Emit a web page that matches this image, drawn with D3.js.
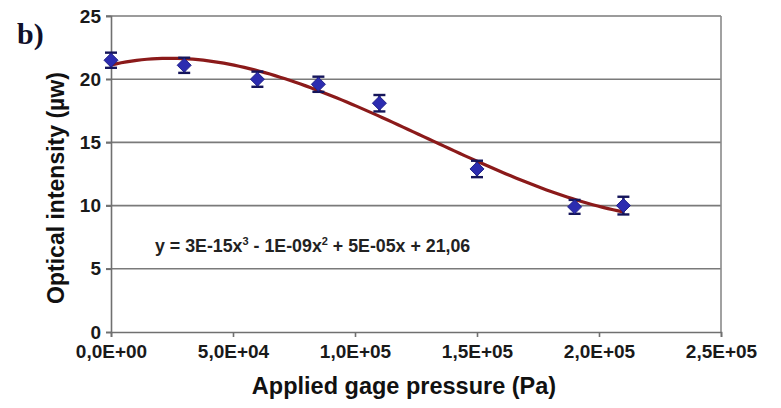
<!DOCTYPE html>
<html>
<head>
<meta charset="utf-8">
<script src="https://cdn.jsdelivr.net/npm/d3@7"></script>
<style>
  body { margin: 0; background: #fff; }
  svg { display: block; }
  text { font-family: "Liberation Sans", Arial, sans-serif; }
</style>
</head>
<body>
<svg id="chart" width="781" height="408"></svg>
<script>
// measured pressure (Pa) and optical intensity (µw) with error bars
const pressure = [0, 30000, 60000, 85000, 110000, 150000, 190000, 210000]
const intensity = [21.5, 21.1, 20.0, 19.6, 18.1, 12.9, 9.9, 10.0]
const errors = [0.6, 0.6, 0.6, 0.6, 0.65, 0.65, 0.55, 0.7]
const xTicks = [0, 50000, 100000, 150000, 200000, 250000]
const yTicks = [0, 5, 10, 15, 20, 25]
// trendline label, split so the exponents can be raised
const equationParts = [['y = 3E-15x', false], ['3', true], [' - 1E-09x', false], ['2', true], [' + 5E-05x + 21,06', false]]

const svg = d3.select('#chart')
const margin = { top: 16, right: 60, bottom: 76, left: 111 }
const width = 781, height = 408

let x = d3.scaleLinear().domain([0, 250000]).range([margin.left, width - margin.right])
let y = d3.scaleLinear().domain([0, 25]).range([height - margin.bottom, margin.top])

// excel-like "1,5E+05" tick format
function sci(d) {
  if (d === 0) return '0,0E+00'
  let e = Math.floor(Math.log10(Math.abs(d)))
  let m = (d / Math.pow(10, e)).toFixed(1).replace('.', ',')
  return m + 'E' + (e < 0 ? '-' : '+') + String(Math.abs(e)).padStart(2, '0')
}

// cubic least squares trendline (x scaled to 1e5 for stability)
function cubicFit(xs, ys) {
  let n = 4
  let A = [], b = []
  for (let i = 0; i < n; i++) {
    A.push([])
    for (let j = 0; j < n; j++) A[i].push(d3.sum(xs, v => Math.pow(v, i + j)))
    b.push(d3.sum(xs, (v, k) => Math.pow(v, i) * ys[k]))
  }
  for (let c = 0; c < n; c++) {
    let p = c
    for (let r = c + 1; r < n; r++) if (Math.abs(A[r][c]) > Math.abs(A[p][c])) p = r
    ;[A[c], A[p]] = [A[p], A[c]]
    ;[b[c], b[p]] = [b[p], b[c]]
    for (let r = c + 1; r < n; r++) {
      let f = A[r][c] / A[c][c]
      for (let k = c; k < n; k++) A[r][k] -= f * A[c][k]
      b[r] -= f * b[c]
    }
  }
  let coef = new Array(n).fill(0)
  for (let r = n - 1; r >= 0; r--) {
    let s = b[r]
    for (let k = r + 1; k < n; k++) s -= A[r][k] * coef[k]
    coef[r] = s / A[r][r]
  }
  return coef
}

const scaled = pressure.map(p => p / 1e5)
const coef = cubicFit(scaled, intensity)
const poly = v => coef[0] + coef[1] * v + coef[2] * v * v + coef[3] * v * v * v

// gridlines
svg.append('g')
  .selectAll('line')
  .data(yTicks.filter(t => t > 0))
  .enter()
  .append('line')
  .attr('x1', margin.left - 5)
  .attr('x2', x(250000))
  .attr('y1', d => y(d))
  .attr('y2', d => y(d))
  .style('stroke', '#7a7a7a')
  .style('stroke-width', 1.6)

// right border of plot area
svg.append('line')
  .attr('x1', x(250000)).attr('x2', x(250000))
  .attr('y1', y(25)).attr('y2', y(0))
  .style('stroke', '#8a8a8a')
  .style('stroke-width', 1.6)

// y axis
let yAxis = svg.append('g')
  .attr('transform', 'translate(' + margin.left + ',0)')
  .call(d3.axisLeft(y).tickValues(yTicks).tickSize(5).tickPadding(5))
// x axis
let xAxis = svg.append('g')
  .attr('transform', 'translate(0,' + y(0) + ')')
  .call(d3.axisBottom(x).tickValues(xTicks).tickFormat(sci).tickSize(5).tickPadding(8))

;[xAxis, yAxis].forEach(ax => {
  ax.select('.domain').style('stroke', '#707070').style('stroke-width', 1.6)
  ax.selectAll('.tick line').style('stroke', '#707070').style('stroke-width', 1.6)
  ax.selectAll('.tick text')
    .style('font-size', '19px')
    .style('font-weight', 'bold')
    .style('fill', '#1a1a1a')
})

// trendline
let curve = d3.range(0, 101).map(i => {
  let v = pressure[0] + (pressure[pressure.length - 1] - pressure[0]) * i / 100
  return [v, poly(v / 1e5)]
})
svg.append('path')
  .datum(curve)
  .attr('d', d3.line().x(d => x(d[0])).y(d => y(d[1])).curve(d3.curveLinear))
  .style('fill', 'none')
  .style('stroke', '#8b1a1a')
  .style('stroke-width', 3.2)

// error bars
let bars = svg.append('g').selectAll('g.err')
  .data(pressure)
  .enter()
  .append('g')
  .classed('err', true)
bars.append('line')
  .attr('x1', d => x(d)).attr('x2', d => x(d))
  .attr('y1', (d, i) => y(intensity[i] + errors[i]))
  .attr('y2', (d, i) => y(intensity[i] - errors[i]))
bars.append('line')
  .attr('x1', d => x(d) - 6).attr('x2', d => x(d) + 6)
  .attr('y1', (d, i) => y(intensity[i] + errors[i]))
  .attr('y2', (d, i) => y(intensity[i] + errors[i]))
bars.append('line')
  .attr('x1', d => x(d) - 6).attr('x2', d => x(d) + 6)
  .attr('y1', (d, i) => y(intensity[i] - errors[i]))
  .attr('y2', (d, i) => y(intensity[i] - errors[i]))
bars.selectAll('line')
  .style('stroke', '#15155a')
  .style('stroke-width', 2.4)

// diamond markers
svg.append('g').selectAll('path')
  .data(pressure)
  .enter()
  .append('path')
  .attr('transform', (d, i) => 'translate(' + x(d) + ',' + y(intensity[i]) + ')')
  .attr('d', 'M0,-7L7,0L0,7L-7,0Z')
  .style('fill', '#2c2cb0')
  .style('stroke', '#22228a')
  .style('stroke-width', 1)

// equation
let eq = svg.append('text')
  .attr('x', 155)
  .attr('y', 252)
  .style('font-size', '17.8px')
  .style('font-weight', 'bold')
  .style('fill', '#222')
eq.selectAll('tspan')
  .data(equationParts)
  .enter()
  .append('tspan')
  .text(d => d[0])
  .attr('dy', (d, i) => d[1] ? -7 : (i > 0 ? 7 : 0))
  .style('font-size', d => d[1] ? '11px' : null)

// axis titles
svg.append('text')
  .attr('x', 404)
  .attr('y', 394)
  .attr('text-anchor', 'middle')
  .text('Applied gage pressure (Pa)')
  .style('font-size', '23.5px')
  .style('font-weight', 'bold')
  .style('fill', '#111')

svg.append('text')
  .attr('transform', 'translate(64,' + 188 + ') rotate(-90)')
  .attr('text-anchor', 'middle')
  .text('Optical intensity (µw)')
  .style('font-size', '23px')
  .style('font-weight', 'bold')
  .style('fill', '#111')

// panel letter
svg.append('text')
  .attr('x', 17)
  .attr('y', 44)
  .text('b)')
  .style('font-family', '"Liberation Serif", "Times New Roman", serif')
  .style('font-size', '30px')
  .style('font-weight', 'bold')
  .style('fill', '#10102a')
</script>
</body>
</html>
